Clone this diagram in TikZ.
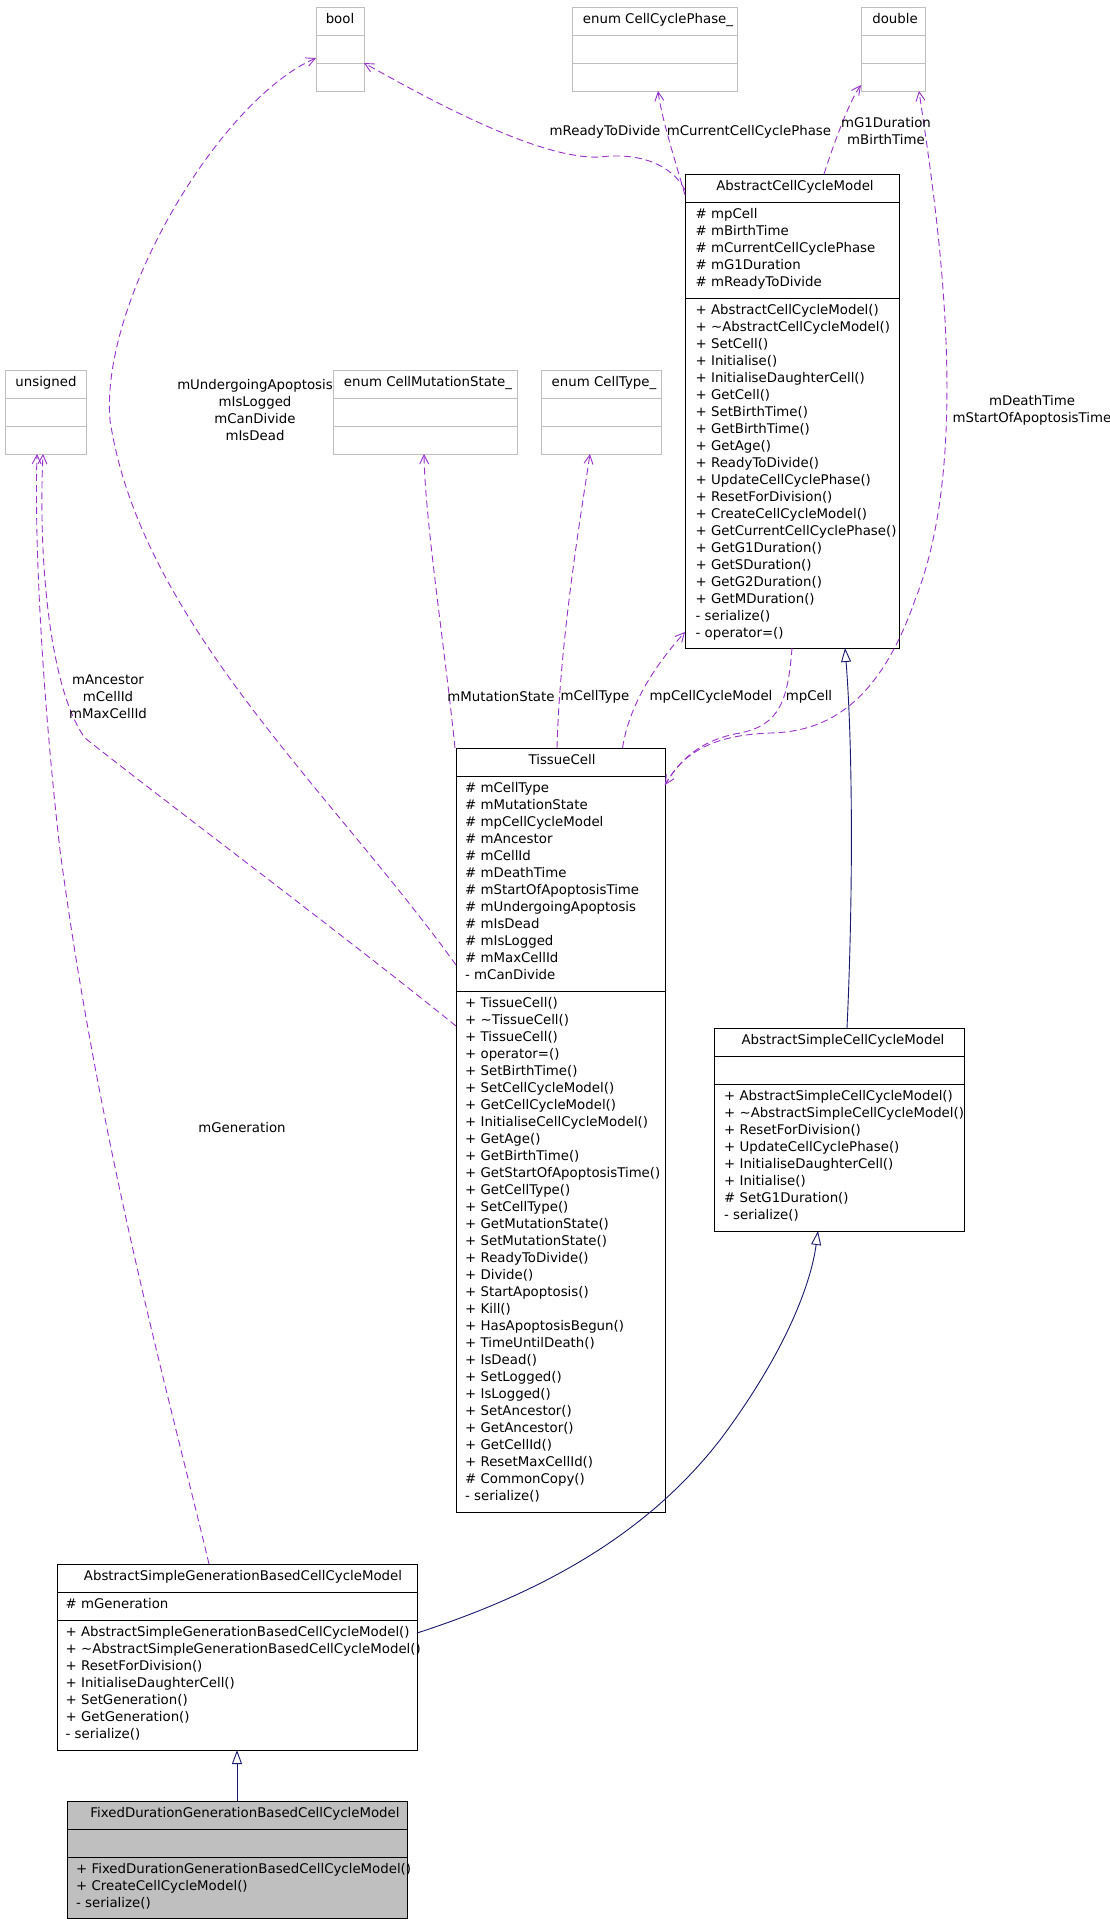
\documentclass[tikz,border=0pt]{standalone}
\usepackage{fontspec}
\setmainfont{DejaVu Sans}
\usetikzlibrary{arrows.meta}
\definecolor{usecol}{HTML}{9A32CD}
\definecolor{inhcol}{HTML}{191970}
\definecolor{leafcol}{HTML}{BFBFBF}
\newcommand{\memlist}[4]{\foreach \t [count=\i from 0] in {#4} {\node[mem] (#1\i) at ({#2},{#3+13.3+17*\i}) {\t};}}
\begin{document}
\begin{tikzpicture}[x=1pt,y=-1pt,
  every node/.style={font=\fontsize{13.33}{17}\selectfont},
  box/.style={draw=black,line width=1pt,fill=white,anchor=north west,inner sep=0pt,outer sep=0pt},
  leaf/.style={box,draw=leafcol},
  sep/.style={draw=black,line width=1pt},
  lsep/.style={draw=leafcol,line width=1pt},
  mem/.style={anchor=mid west,inner sep=0pt},
  hdr/.style={anchor=mid,inner sep=0pt},
  lbl/.style={anchor=center,inner sep=0pt,align=center},
  use/.style={draw=usecol,line width=0.9pt,dash pattern=on 7pt off 4pt,-{Straight Barb[length=9pt,width=9pt]}},
  inh/.style={draw=inhcol,line width=0.9pt,-{Triangle[length=14pt,width=10pt,fill=white]}},
]
\fill[white] (0,0) rectangle (1109,1923);
\useasboundingbox (0,0) rectangle (1109,1923);
\clip (0,0) rectangle (1109,1923);

% ---------- leaf boxes ----------
\node[leaf,minimum width=48pt,minimum height=84pt] (bool) at (316,7) {};
\draw[lsep] (316,35) -- (364,35); \draw[lsep] (316,63) -- (364,63);
\node[hdr] (boolh) at (340,21) {bool};

\node[leaf,minimum width=165pt,minimum height=84pt] (ccp) at (572,7) {};
\draw[lsep] (572,35) -- (737,35); \draw[lsep] (572,63) -- (737,63);
\node[hdr] (ccph) at (658,21) {enum CellCyclePhase\_};

\node[leaf,minimum width=64pt,minimum height=84pt] (dbl) at (861,7) {};
\draw[lsep] (861,35) -- (925,35); \draw[lsep] (861,63) -- (925,63);
\node[hdr] (dblh) at (895,21) {double};

\node[leaf,minimum width=81pt,minimum height=84pt] (uns) at (5,370) {};
\draw[lsep] (5,398) -- (86,398); \draw[lsep] (5,426) -- (86,426);
\node[hdr] (unsh) at (46,384) {unsigned};

\node[leaf,minimum width=184pt,minimum height=84pt] (cms) at (333,370) {};
\draw[lsep] (333,398) -- (517,398); \draw[lsep] (333,426) -- (517,426);
\node[hdr] (cmsh) at (428,384) {enum CellMutationState\_};

\node[leaf,minimum width=120pt,minimum height=84pt] (ct) at (541,370) {};
\draw[lsep] (541,398) -- (661,398); \draw[lsep] (541,426) -- (661,426);
\node[hdr] (cth) at (604,384) {enum CellType\_};

% ---------- AbstractCellCycleModel ----------
\node[box,minimum width=214pt,minimum height=474pt] (accm) at (685,174) {};
\draw[sep] (685,202) -- (899,202); \draw[sep] (685,298) -- (899,298);
\node[hdr] (accmh) at (795,188) {AbstractCellCycleModel};
\memlist{accma}{695.5}{202}{\# mpCell,\# mBirthTime,\# mCurrentCellCyclePhase,\# mG1Duration,\# mReadyToDivide}
\memlist{accmm}{695.5}{298}{+ AbstractCellCycleModel(),+ \textasciitilde{}AbstractCellCycleModel(),+ SetCell(),+ Initialise(),+ InitialiseDaughterCell(),+ GetCell(),+ SetBirthTime(),+ GetBirthTime(),+ GetAge(),+ ReadyToDivide(),+ UpdateCellCyclePhase(),+ ResetForDivision(),+ CreateCellCycleModel(),+ GetCurrentCellCyclePhase(),+ GetG1Duration(),+ GetSDuration(),+ GetG2Duration(),+ GetMDuration(),- serialize(),- operator=()}

% ---------- TissueCell ----------
\node[box,minimum width=209pt,minimum height=764pt] (tc) at (456,748) {};
\draw[sep] (456,776) -- (665,776); \draw[sep] (456,991) -- (665,991);
\node[hdr] (tch) at (562,762) {TissueCell};
\memlist{tca}{465}{776}{\# mCellType,\# mMutationState,\# mpCellCycleModel,\# mAncestor,\# mCellId,\# mDeathTime,\# mStartOfApoptosisTime,\# mUndergoingApoptosis,\# mIsDead,\# mIsLogged,\# mMaxCellId,- mCanDivide}
\memlist{tcm}{465}{991}{+ TissueCell(),+ \textasciitilde{}TissueCell(),+ TissueCell(),+ operator=(),+ SetBirthTime(),+ SetCellCycleModel(),+ GetCellCycleModel(),+ InitialiseCellCycleModel(),+ GetAge(),+ GetBirthTime(),+ GetStartOfApoptosisTime(),+ GetCellType(),+ SetCellType(),+ GetMutationState(),+ SetMutationState(),+ ReadyToDivide(),+ Divide(),+ StartApoptosis(),+ Kill(),+ HasApoptosisBegun(),+ TimeUntilDeath(),+ IsDead(),+ SetLogged(),+ IsLogged(),+ SetAncestor(),+ GetAncestor(),+ GetCellId(),+ ResetMaxCellId(),\# CommonCopy(),- serialize()}

% ---------- AbstractSimpleCellCycleModel ----------
\node[box,minimum width=250pt,minimum height=203pt] (asccm) at (714,1028) {};
\draw[sep] (714,1056) -- (964,1056); \draw[sep] (714,1084) -- (964,1084);
\node[hdr] (asccmh) at (843,1042) {AbstractSimpleCellCycleModel};
\memlist{asccmm}{724}{1084}{+ AbstractSimpleCellCycleModel(),+ \textasciitilde{}AbstractSimpleCellCycleModel(),+ ResetForDivision(),+ UpdateCellCyclePhase(),+ InitialiseDaughterCell(),+ Initialise(),\# SetG1Duration(),- serialize()}

% ---------- AbstractSimpleGenerationBasedCellCycleModel ----------
\node[box,minimum width=360pt,minimum height=186pt] (asgb) at (57,1564) {};
\draw[sep] (57,1592) -- (417,1592); \draw[sep] (57,1620) -- (417,1620);
\node[hdr] (asgbh) at (243,1578) {AbstractSimpleGenerationBasedCellCycleModel};
\memlist{asgba}{65.5}{1592}{\# mGeneration}
\memlist{asgbm}{65.5}{1620}{+ AbstractSimpleGenerationBasedCellCycleModel(),+ \textasciitilde{}AbstractSimpleGenerationBasedCellCycleModel(),+ ResetForDivision(),+ InitialiseDaughterCell(),+ SetGeneration(),+ GetGeneration(),- serialize()}

% ---------- FixedDurationGenerationBasedCellCycleModel ----------
\node[box,fill=leafcol,minimum width=340pt,minimum height=117pt] (fixed) at (67,1801) {};
\draw[sep] (67,1829) -- (407,1829); \draw[sep] (67,1857) -- (407,1857);
\node[hdr] (fixedh) at (245,1815) {FixedDurationGenerationBasedCellCycleModel};
\memlist{fixedm}{76}{1857}{+ FixedDurationGenerationBasedCellCycleModel(),+ CreateCellCycleModel(),- serialize()}

% ---------- usage edges ----------
\draw[use] ([yshift=-16pt]accm.north west) .. controls (672,165) and (640,152) .. (600,157) .. controls (540,160) and (430,100) .. ([yshift=-56pt]bool.north east);
\draw[use] ([yshift=-21pt]accm.north west) .. controls (675,160) and (662,120) .. ([xshift=3.5pt]ccp.south);
\draw[use] ([xshift=32pt]accm.north) .. controls (835,140) and (850,100) .. ([yshift=6pt]dbl.south west);
\draw[use] ([yshift=-37pt]tc.north east) .. controls (685,748) and (720,735) .. (770,733) .. controls (830,732) and (880,700) .. (915,600) .. controls (975,450) and (935,200) .. ([xshift=-6pt]dbl.south east);
\draw[use] (accm.south) .. controls (788,700) and (780,725) .. (740,733) .. controls (700,740) and (680,760) .. ([yshift=-37pt]tc.north east);
\draw[use] ([xshift=62pt]tc.north) .. controls (630,700) and (660,660) .. ([yshift=16pt]accm.south west);
\draw[use] ([xshift=-3.5pt]tc.north) .. controls (560,640) and (580,520) .. ([xshift=-11pt]ct.south);
\draw[use] ([xshift=-1pt]tc.north west) .. controls (445,650) and (425,520) .. ([xshift=-1pt]cms.south);
\draw[use] ([yshift=-217pt]tc.north west) .. controls (330,790) and (140,620) .. (110,420) .. controls (100,300) and (220,100) .. ([yshift=-51pt]bool.north west);
\draw[use] ([yshift=-278pt]tc.north west) .. controls (350,940) and (150,790) .. (85,738) .. controls (50,690) and (38,560) .. ([xshift=-2.5pt]uns.south);
\draw[use] ([xshift=-28pt]asgb.north) .. controls (170,1400) and (100,1150) .. (60,850) .. controls (45,720) and (34,560) .. ([xshift=-8.5pt]uns.south);

% ---------- inheritance edges ----------
\draw[inh] ([xshift=8pt]asccm.north) .. controls (853,900) and (853,750) .. ([xshift=53pt]accm.south);
\draw[inh] ([yshift=-69pt]asgb.north east) .. controls (550,1590) and (650,1530) .. (720,1440) .. controls (780,1360) and (810,1290) .. ([xshift=-21pt]asccm.south);
\draw[inh] (fixed.north) -- (asgb.south);

% ---------- edge labels ----------
\node[lbl] (l1) at (605,132) {mReadyToDivide};
\node[lbl] (l2) at (749,132) {mCurrentCellCyclePhase};
\node[lbl] (l3) at (886,131) {mG1Duration\\mBirthTime};
\node[lbl] (l4) at (1032,410) {mDeathTime\\mStartOfApoptosisTime};
\node[lbl] (l5) at (809,697) {mpCell};
\node[lbl] (l6) at (711,697) {mpCellCycleModel};
\node[lbl] (l7) at (595,697) {mCellType};
\node[lbl] (l8) at (501,697) {mMutationState};
\node[lbl] (l9) at (255,410) {mUndergoingApoptosis\\mIsLogged\\mCanDivide\\mIsDead};
\node[lbl] (l10) at (108,697) {mAncestor\\mCellId\\mMaxCellId};
\node[lbl] (l11) at (242,1128) {mGeneration};
\end{tikzpicture}
\end{document}
